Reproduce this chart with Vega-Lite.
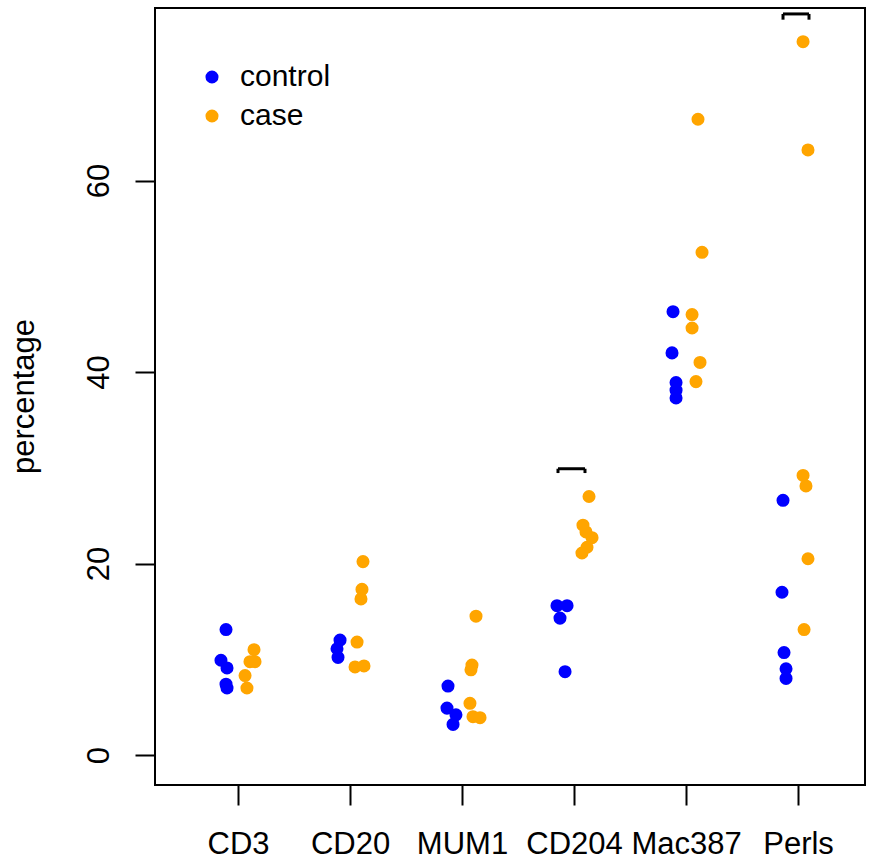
{
  "$schema": "https://vega.github.io/schema/vega-lite/v6.json",
  "width": 710,
  "height": 777,
  "autosize": {"type": "none"},
  "padding": {"left": 155, "top": 8, "right": 8, "bottom": 79},
  "background": "white",
  "config": {"view": {"stroke": "black", "strokeWidth": 2}, "font": "Liberation Sans"},
  "datasets": {
    "points": [
      {"marker": "CD3", "group": "control", "pos": 0.893, "value": 13.1},
      {"marker": "CD3", "group": "control", "pos": 0.848, "value": 9.9},
      {"marker": "CD3", "group": "control", "pos": 0.902, "value": 9.1},
      {"marker": "CD3", "group": "control", "pos": 0.893, "value": 7.4},
      {"marker": "CD3", "group": "control", "pos": 0.902, "value": 7.0},
      {"marker": "CD3", "group": "case", "pos": 1.143, "value": 11.0},
      {"marker": "CD3", "group": "case", "pos": 1.107, "value": 9.75},
      {"marker": "CD3", "group": "case", "pos": 1.152, "value": 9.75},
      {"marker": "CD3", "group": "case", "pos": 1.063, "value": 8.3},
      {"marker": "CD3", "group": "case", "pos": 1.080, "value": 7.0},
      {"marker": "CD20", "group": "control", "pos": 1.911, "value": 12.0},
      {"marker": "CD20", "group": "control", "pos": 1.884, "value": 11.1},
      {"marker": "CD20", "group": "control", "pos": 1.893, "value": 10.2},
      {"marker": "CD20", "group": "case", "pos": 2.116, "value": 20.2},
      {"marker": "CD20", "group": "case", "pos": 2.107, "value": 17.3},
      {"marker": "CD20", "group": "case", "pos": 2.098, "value": 16.3},
      {"marker": "CD20", "group": "case", "pos": 2.063, "value": 11.8},
      {"marker": "CD20", "group": "case", "pos": 2.045, "value": 9.2},
      {"marker": "CD20", "group": "case", "pos": 2.125, "value": 9.3},
      {"marker": "MUM1", "group": "control", "pos": 2.875, "value": 7.2},
      {"marker": "MUM1", "group": "control", "pos": 2.866, "value": 4.9},
      {"marker": "MUM1", "group": "control", "pos": 2.946, "value": 4.2},
      {"marker": "MUM1", "group": "control", "pos": 2.920, "value": 3.2},
      {"marker": "MUM1", "group": "case", "pos": 3.125, "value": 14.5},
      {"marker": "MUM1", "group": "case", "pos": 3.089, "value": 9.4},
      {"marker": "MUM1", "group": "case", "pos": 3.080, "value": 8.9},
      {"marker": "MUM1", "group": "case", "pos": 3.071, "value": 5.4},
      {"marker": "MUM1", "group": "case", "pos": 3.098, "value": 4.0},
      {"marker": "MUM1", "group": "case", "pos": 3.161, "value": 3.9},
      {"marker": "CD204", "group": "control", "pos": 3.848, "value": 15.6},
      {"marker": "CD204", "group": "control", "pos": 3.938, "value": 15.6},
      {"marker": "CD204", "group": "control", "pos": 3.875, "value": 14.3},
      {"marker": "CD204", "group": "control", "pos": 3.920, "value": 8.7},
      {"marker": "CD204", "group": "case", "pos": 4.134, "value": 27.0},
      {"marker": "CD204", "group": "case", "pos": 4.080, "value": 24.0},
      {"marker": "CD204", "group": "case", "pos": 4.107, "value": 23.3},
      {"marker": "CD204", "group": "case", "pos": 4.161, "value": 22.7},
      {"marker": "CD204", "group": "case", "pos": 4.116, "value": 21.7},
      {"marker": "CD204", "group": "case", "pos": 4.071, "value": 21.1},
      {"marker": "Mac387", "group": "control", "pos": 4.884, "value": 46.3},
      {"marker": "Mac387", "group": "control", "pos": 4.875, "value": 42.0},
      {"marker": "Mac387", "group": "control", "pos": 4.911, "value": 38.9},
      {"marker": "Mac387", "group": "control", "pos": 4.911, "value": 38.1},
      {"marker": "Mac387", "group": "control", "pos": 4.911, "value": 37.3},
      {"marker": "Mac387", "group": "case", "pos": 5.107, "value": 66.4},
      {"marker": "Mac387", "group": "case", "pos": 5.143, "value": 52.5},
      {"marker": "Mac387", "group": "case", "pos": 5.054, "value": 46.0},
      {"marker": "Mac387", "group": "case", "pos": 5.054, "value": 44.6},
      {"marker": "Mac387", "group": "case", "pos": 5.125, "value": 41.0},
      {"marker": "Mac387", "group": "case", "pos": 5.089, "value": 39.0},
      {"marker": "Perls", "group": "control", "pos": 5.866, "value": 26.6},
      {"marker": "Perls", "group": "control", "pos": 5.857, "value": 17.0},
      {"marker": "Perls", "group": "control", "pos": 5.875, "value": 10.7},
      {"marker": "Perls", "group": "control", "pos": 5.893, "value": 9.0},
      {"marker": "Perls", "group": "control", "pos": 5.893, "value": 8.0},
      {"marker": "Perls", "group": "case", "pos": 6.045, "value": 74.5},
      {"marker": "Perls", "group": "case", "pos": 6.089, "value": 63.2},
      {"marker": "Perls", "group": "case", "pos": 6.045, "value": 29.2},
      {"marker": "Perls", "group": "case", "pos": 6.071, "value": 28.1},
      {"marker": "Perls", "group": "case", "pos": 6.089, "value": 20.5},
      {"marker": "Perls", "group": "case", "pos": 6.054, "value": 13.1}
    ],
    "brackets": [
      {"pos": 3.857, "pos2": 4.098, "value": 29.9, "value2": 29.9},
      {"pos": 3.857, "pos2": 3.857, "value": 29.9, "value2": 29.45},
      {"pos": 4.098, "pos2": 4.098, "value": 29.9, "value2": 29.45},
      {"pos": 5.866, "pos2": 6.098, "value": 77.4, "value2": 77.4},
      {"pos": 5.866, "pos2": 5.866, "value": 77.4, "value2": 76.8},
      {"pos": 6.098, "pos2": 6.098, "value": 77.4, "value2": 76.8}
    ]
  },
  "encoding": {
    "x": {
      "field": "pos", "type": "quantitative",
      "scale": {"domain": [0.259, 6.598], "nice": false, "zero": false},
      "axis": {
        "values": [1, 2, 3, 4, 5, 6],
        "labelExpr": "['','CD3','CD20','MUM1','CD204','Mac387','Perls'][datum.value]",
        "grid": false, "domain": false, "tickSize": 20, "tickWidth": 2, "tickColor": "black",
        "labelFontSize": 31, "labelColor": "black", "labelPadding": 24, "labelFlush": false,
        "labelOverlap": false, "title": null
      }
    },
    "y": {
      "field": "value", "type": "quantitative",
      "scale": {"domain": [-3.13, 78.02], "nice": false, "zero": false},
      "axis": {
        "values": [0, 20, 40, 60],
        "grid": false, "domain": false, "tickSize": 20, "tickWidth": 2, "tickColor": "black",
        "labelAngle": -90, "labelFontSize": 31, "labelColor": "black", "labelPadding": 20,
        "labelOverlap": false,
        "title": "percentage", "titleFontSize": 31, "titleFontWeight": "normal", "titleColor": "black",
        "titleAngle": -90, "titleX": -131, "titleY": 388, "titleAlign": "center", "titleBaseline": "middle"
      }
    }
  },
  "layer": [
    {
      "data": {"name": "points"},
      "mark": {"type": "circle", "size": 170, "opacity": 1},
      "encoding": {
        "color": {
          "field": "group", "type": "nominal",
          "scale": {"domain": ["control", "case"], "range": ["#0000FF", "#FFA500"]},
          "legend": {
            "orient": "none", "legendX": 42, "legendY": 54, "title": null,
            "labelFontSize": 30, "labelColor": "black", "symbolSize": 170, "symbolType": "circle",
            "rowPadding": 9, "labelOffset": 13, "padding": 0, "symbolStrokeWidth": 0
          }
        }
      }
    },
    {
      "data": {"name": "brackets"},
      "mark": {"type": "rule", "color": "black", "strokeWidth": 3},
      "encoding": {
        "x2": {"field": "pos2"},
        "y2": {"field": "value2"}
      }
    }
  ]
}
